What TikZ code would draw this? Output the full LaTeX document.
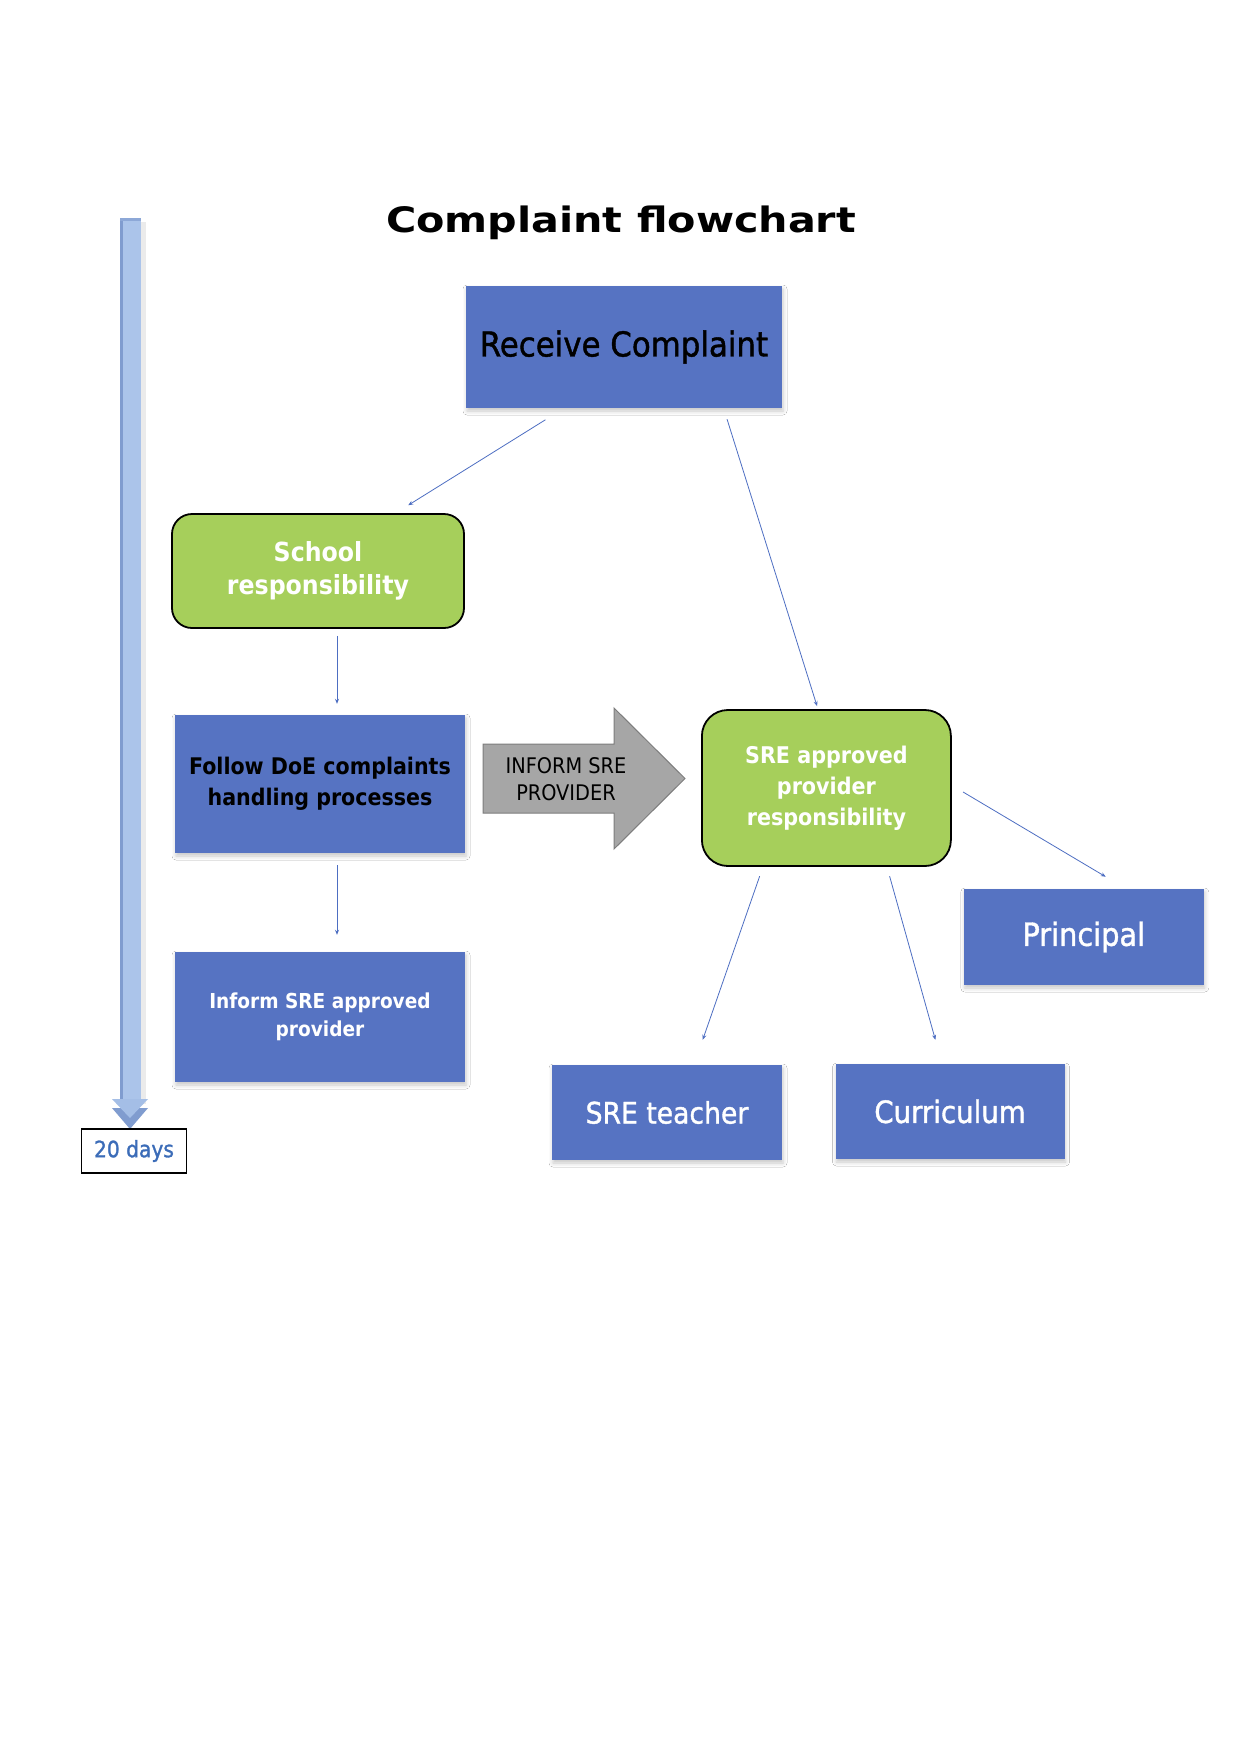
\documentclass[tikz,border=0pt]{standalone}
\usepackage{fontspec}
\setmainfont{DejaVu Sans Condensed}
\newfontfamily\titlefont{DejaVu Sans}[FakeStretch=1.18]
\newfontfamily\medfont{DejaVu Sans Condensed}[FakeBold=1.2]
\usetikzlibrary{calc,arrows.meta,shadows.blur}
\definecolor{boxblue}{RGB}{86,115,194}
\definecolor{boxgreen}{RGB}{166,207,91}
\definecolor{connblue}{RGB}{77,110,194}
\definecolor{daysblue}{RGB}{59,108,184}
\definecolor{arrowgray}{RGB}{166,166,166}
\definecolor{arrowedge}{RGB}{125,125,125}
\definecolor{timelight}{RGB}{171,196,234}
\definecolor{timedark}{RGB}{128,156,207}
\begin{document}
\begin{tikzpicture}[x=1pt,y=-1pt,
  bluebox/.style={fill=boxblue, inner sep=0pt, align=center,
    blur shadow={shadow xshift=1pt, shadow yshift=-3pt, shadow blur radius=4pt, shadow opacity=22}},
  greenbox/.style={fill=boxgreen, draw=black, line width=1.8pt, rounded corners=20pt, inner sep=0pt, align=center, text=white},
  conn/.style={draw=connblue, line width=0.8pt, -{Stealth[length=5pt,width=4pt]}}
]
\useasboundingbox[fill=white] (0,0) rectangle (1239,1754);

% title
\node[font=\titlefont\bfseries\fontsize{35}{40}\selectfont] (title) at (621,223) {Complaint flowchart};

% timeline arrow
\fill[black, opacity=0.08] (124,222) rectangle (146,1104);
\fill[timelight] (120,218) rectangle (141,1101);
\fill[timedark] (120,218) rectangle (123,1101);
\fill[timedark!70!timelight] (120,218) rectangle (141,221);
\fill[timedark] (112,1108) -- (148,1108) -- (130,1129) -- cycle;
\fill[timelight!85!timedark] (112,1099) -- (148,1099) -- (130,1118) -- cycle;

\node[draw=black, line width=1.2pt, minimum width=105pt, minimum height=44pt, inner sep=0pt,
  text=daysblue, font=\medfont\fontsize{22.5}{24}\selectfont] (days) at (134,1151) {20 days};

% boxes
\node[bluebox, minimum width=316pt, minimum height=122pt, font=\medfont\fontsize{34.3}{36}\selectfont] (recv) at (624,347) {Receive Complaint};

\node[greenbox, minimum width=292pt, minimum height=114pt, font=\bfseries\fontsize{26.3}{33}\selectfont] (school) at (318,571) {School\\responsibility};

\node[bluebox, minimum width=290pt, minimum height=138pt, font=\bfseries\fontsize{22.9}{31}\selectfont] (follow) at (320,784) {Follow DoE complaints\\handling processes};

\node[bluebox, minimum width=290pt, minimum height=130pt, text=white, font=\bfseries\fontsize{20.6}{28}\selectfont] (inform) at (320,1017) {Inform SRE approved\\provider};

\node[greenbox, rounded corners=26pt, minimum width=249pt, minimum height=156pt, font=\bfseries\fontsize{23}{31}\selectfont] (sre) at (826.4,788) {SRE approved\\provider\\responsibility};

\node[bluebox, minimum width=240pt, minimum height=96pt, text=white, font=\medfont\fontsize{32}{34}\selectfont] (principal) at (1083.8,937) {Principal};

\node[bluebox, minimum width=230pt, minimum height=95pt, text=white, font=\medfont\fontsize{29.6}{32}\selectfont] (teacher) at (667,1112.5) {SRE teacher};

\node[bluebox, minimum width=229pt, minimum height=95pt, text=white, font=\medfont\fontsize{30.7}{32}\selectfont] (curr) at (950,1111.5) {Curriculum};

% gray block arrow
\draw[fill=arrowgray, draw=arrowedge, line width=1pt]
  (483,744) -- (614,744) -- (614,708) -- (685,778.5) -- (614,849) -- (614,813) -- (483,813) -- cycle;
\node[align=center, font=\fontsize{21.5}{27}\selectfont] (informtxt) at (566,779) {INFORM SRE\\PROVIDER};

% connectors
\draw[conn, shorten <=21.9pt, shorten >=7.3pt] ($(recv.south)+(-60,0)$) -- ($(school.north)+(84,-4)$);
\draw[conn, shorten <=11.5pt, shorten >=3.1pt] ($(recv.south)+(99.6,0)$) -- ($(sre.north)+(-8.4,0)$);
\draw[conn, shorten <=7pt, shorten >=11pt] ($(school.south)+(19,0)$) -- ($(follow.north)+(17,0)$);
\draw[conn, shorten <=12pt, shorten >=17pt] ($(follow.south)+(17,0)$) -- ($(inform.north)+(17,0)$);
\draw[conn, shorten <=13.1pt, shorten >=23.6pt] ($(sre.east)+(0,-2.7)$) -- ($(principal.north)+(42.2,0)$);
\draw[conn, shorten <=9.8pt, shorten >=26.5pt] ($(sre.south)+(-63.5,0)$) -- ($(teacher.north)+(27,0)$);
\draw[conn, shorten <=9.65pt, shorten >=24.9pt] ($(sre.south)+(60.6,0)$) -- ($(curr.north)+(-7.9,0)$);
\end{tikzpicture}
\end{document}
